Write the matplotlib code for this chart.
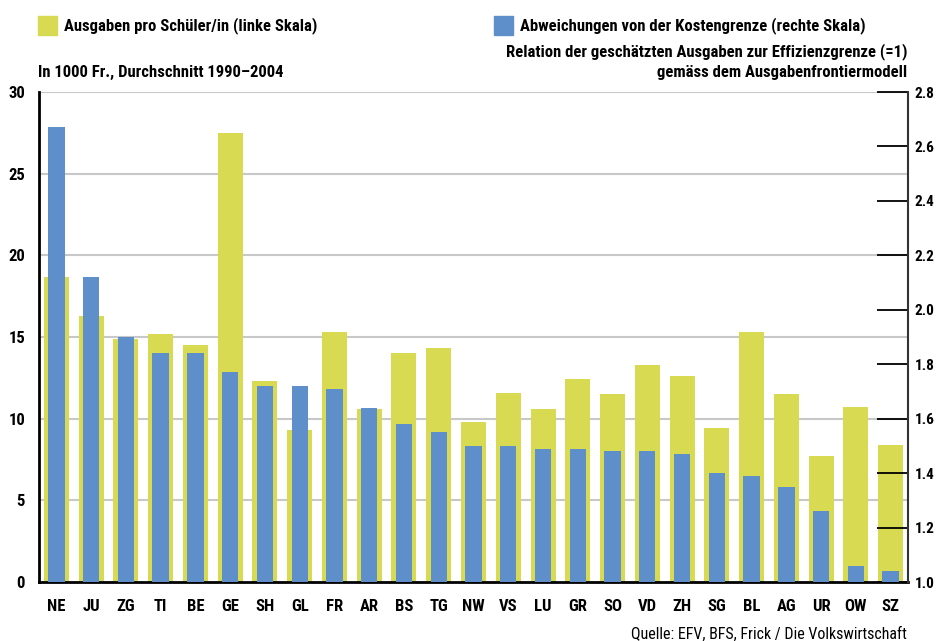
import matplotlib
matplotlib.use("Agg")
import matplotlib.pyplot as plt
from matplotlib import font_manager as fm
import numpy as np
from matplotlib.patches import Rectangle

cantons = ["NE", "JU", "ZG", "TI", "BE", "GE", "SH", "GL", "FR", "AR", "BS", "TG", "NW",
           "VS", "LU", "GR", "SO", "VD", "ZH", "SG", "BL", "AG", "UR", "OW", "SZ"]
ausgaben = [18.7, 16.3, 14.9, 15.2, 14.5, 27.5, 12.3, 9.3, 15.3, 10.6, 14.0, 14.3, 9.8,
            11.6, 10.6, 12.4, 11.5, 13.3, 12.6, 9.4, 15.3, 11.5, 7.7, 10.7, 8.4]
abweichung = [2.67, 2.12, 1.90, 1.84, 1.84, 1.77, 1.72, 1.72, 1.71, 1.64, 1.58, 1.55, 1.50,
              1.50, 1.49, 1.49, 1.48, 1.48, 1.47, 1.40, 1.39, 1.35, 1.26, 1.06, 1.04]
left_ticks = [0, 5, 10, 15, 20, 25, 30]
right_ticks = [1.0, 1.2, 1.4, 1.6, 1.8, 2.0, 2.2, 2.4, 2.6, 2.8]

yellow = '#d8db52'
blue = '#5f8fca'

# ---- pick a condensed font if one is installed ----
def is_cond(f):
    n = (f.name + " " + f.fname).lower()
    return (str(f.stretch) in ('condensed', 'semi-condensed', 'extra-condensed')
            or 'condensed' in n or 'narrow' in n)

def wnum(w):
    if isinstance(w, int):
        return w
    return {'bold': 700, 'normal': 400, 'regular': 400, 'semibold': 600,
            'medium': 500, 'light': 300}.get(str(w).lower(), 400)

pref = ['Roboto Condensed', 'Liberation Sans Narrow', 'DejaVu Sans', 'Noto Sans',
        'Open Sans', 'Roboto', 'Inter', 'Lato']
cands = [f for f in fm.fontManager.ttflist if is_cond(f) and 'oblique' not in f.fname.lower()
         and 'italic' not in f.fname.lower() and str(f.style) == 'normal']

def pick(target):
    for p in pref:
        fs = [f for f in cands if f.name == p]
        if fs:
            fs.sort(key=lambda f: abs(wnum(f.weight) - target))
            if abs(wnum(fs[0].weight) - target) <= 150:
                return fs[0]
    return None

fb = pick(700)
fr = pick(400)
if fb is not None:
    BOLD = fm.FontProperties(fname=fb.fname)
    scale = 1.0
else:
    BOLD = fm.FontProperties(family='DejaVu Sans', weight='bold')
    scale = 0.82
if fr is not None:
    REG = fm.FontProperties(fname=fr.fname)
else:
    REG = fm.FontProperties(family='DejaVu Sans')

def fp(base, size):
    p = base.copy()
    p.set_size(size * scale)
    return p

W, H = 936, 641
fig = plt.figure(figsize=(W / 100, H / 100), dpi=100)
ax = fig.add_axes([39 / W, (H - 582) / H, (908 - 39) / W, (582 - 92) / H])
x = np.arange(len(cantons))

ax.bar(x, ausgaben, width=0.72, color=yellow, zorder=2)
ax.set_ylim(0, 30)
ax.set_xlim(-0.5, len(cantons) - 0.5)
ax.set_yticks(left_ticks)
ax.set_yticklabels([str(t) for t in left_ticks], fontproperties=fp(BOLD, 12))
ax.tick_params(axis='y', length=0, pad=10)
ax.set_xticks(x)
ax.set_xticklabels(cantons, fontproperties=fp(BOLD, 12))
ax.tick_params(axis='x', length=0, pad=12)
for t in left_ticks[1:]:
    ax.axhline(t, color='#c8c8c8', lw=1.5, zorder=1)
ax.spines['top'].set_visible(False)
ax.spines['right'].set_visible(False)
ax.spines['left'].set_linewidth(2)
ax.spines['bottom'].set_linewidth(2)

ax2 = ax.twinx()
ax2.bar(x, abweichung, width=0.47, color=blue, zorder=3)
ax2.set_ylim(1.0, 2.8)
ax2.set_yticks(right_ticks)
ax2.set_yticklabels([f"{t:.1f}" for t in right_ticks], fontproperties=fp(BOLD, 11))
ax2.tick_params(axis='y', direction='in', length=22, width=1.3, color='black', pad=5)
for s in ['top', 'left', 'bottom']:
    ax2.spines[s].set_visible(False)
ax2.spines['right'].set_linewidth(1.5)
ax2.spines['right'].set_color('#333333')

def fx(px):
    return px / W

def fy(py):
    return 1 - py / H

fig.patches.append(Rectangle((fx(38), fy(35)), 19 / W, 19 / H, transform=fig.transFigure,
                             color=yellow, figure=fig))
fig.patches.append(Rectangle((fx(494), fy(35)), 19 / W, 19 / H, transform=fig.transFigure,
                             color=blue, figure=fig))
fig.text(fx(64), fy(26), "Ausgaben pro Schüler/in (linke Skala)", fontproperties=fp(BOLD, 12),
         va='center', ha='left')
fig.text(fx(520), fy(26), "Abweichungen von der Kostengrenze (rechte Skala)",
         fontproperties=fp(BOLD, 12), va='center', ha='left')
fig.text(fx(907), fy(52), "Relation der geschätzten Ausgaben zur Effizienzgrenze (=1)",
         fontproperties=fp(BOLD, 12), va='center', ha='right')
fig.text(fx(907), fy(72), "gemäss dem Ausgabenfrontiermodell",
         fontproperties=fp(BOLD, 12), va='center', ha='right')
fig.text(fx(38), fy(72), "In 1000 Fr., Durchschnitt 1990–2004",
         fontproperties=fp(BOLD, 12), va='center', ha='left')
fig.text(fx(907), fy(634), "Quelle: EFV, BFS, Frick / Die Volkswirtschaft",
         fontproperties=fp(REG, 11.5), va='center', ha='right')

fig.savefig("out.png", dpi=100)
